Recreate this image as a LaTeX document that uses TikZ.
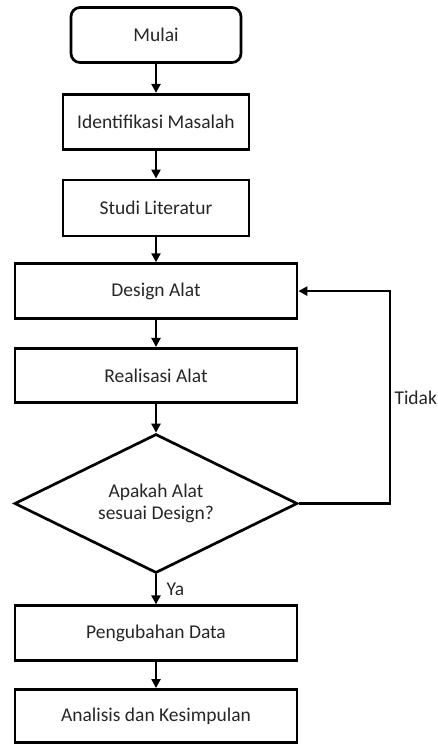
\documentclass[tikz,border=0pt]{standalone}
\usepackage{fontspec}
\setmainfont{Carlito}
\usetikzlibrary{positioning, shapes.geometric,
arrows.meta}

\tikzset{
  box/.style={draw, line width=2.7pt, minimum height=55pt, align=center, text=black!85},
  startbox/.style={box, rounded corners=9pt},
  decision/.style={draw, diamond, line width=2.7pt, aspect=2, inner sep=0pt, align=center, text=black!85},
  flow/.style={line width=2.7pt, -{Triangle[length=9pt,width=9pt]}}
}

\begin{document}
\begin{tikzpicture}[font=\fontsize{19.5pt}{22pt}\selectfont]
\useasboundingbox (0,0) rectangle (437pt,-745pt);
\node[startbox, minimum width=170pt] (mulai) at (156pt,-35pt) {Mulai};
\node[box, minimum width=186pt, below=29pt of mulai] (identifikasi) {Identifikasi Masalah};
\node[box, minimum width=186pt, minimum height=56pt, below=28pt of identifikasi] (studi) {Studi Literatur};
\node[box, minimum width=282pt, below=25pt of studi] (design) {Design Alat};
\node[box, minimum width=282pt, minimum height=54pt, below=27pt of design] (realisasi) {Realisasi Alat};
\node[decision, minimum width=283pt, minimum height=139pt, below=29pt of realisasi] (cek)
    {Apakah Alat\\sesuai Design?};
\node[box, minimum width=282pt, below=30pt of cek] (ubah) {Pengubahan Data};
\node[box, minimum width=282pt, minimum height=53pt, below=26pt of ubah] (analisis) {Analisis dan Kesimpulan};
\draw
    (mulai) edge[flow] (identifikasi)
    (identifikasi) edge[flow] (studi)
    (studi) edge[flow] (design)
    (design) edge[flow] (realisasi)
    (realisasi) edge[flow] (cek)
    (cek) edge[flow] node[right, xshift=6pt, text=black!85]{Ya} (ubah)
    (ubah) edge[flow] (analisis);
\draw[flow] (cek.east) -- ++(91pt,0) |- node[pos=0.25, right, text=black!85]{Tidak} (design.east);
\end{tikzpicture}
\end{document}
